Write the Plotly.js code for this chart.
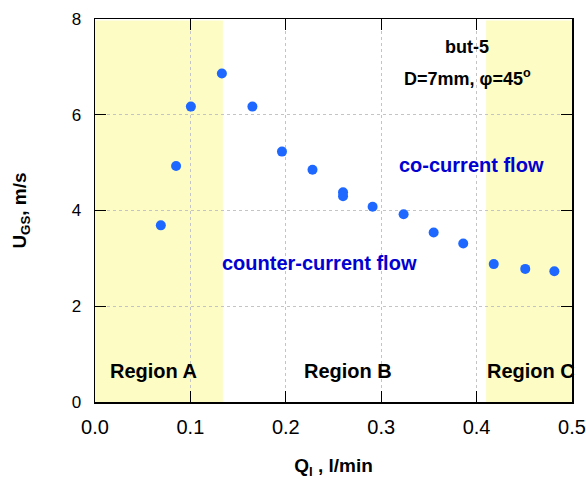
<!DOCTYPE html>
<html>
<head>
<meta charset="utf-8">
<script src="https://cdn.plot.ly/plotly-3.0.1.min.js"></script>
<style>html,body{margin:0;padding:0;background:#fff;}#chart{width:586px;height:482px;}</style>
</head>
<body>
<div id="chart"></div>
<script>
// Data
const qL = [0.069, 0.085, 0.1005, 0.133, 0.165, 0.196, 0.228, 0.260, 0.260, 0.291, 0.3235, 0.355, 0.386, 0.418, 0.451, 0.4815];
const uGS = [3.69, 4.93, 6.17, 6.86, 6.17, 5.23, 4.85, 4.38, 4.30, 4.08, 3.92, 3.54, 3.31, 2.88, 2.78, 2.73];
const regionStarts = [0.0, 0.41];
const regionEnds = [0.134, 0.5];
const xTickVals = [0.0, 0.1, 0.2, 0.3, 0.4, 0.5];
const xTickText = ['0.0', '0.1', '0.2', '0.3', '0.4', '0.5'];
const yTickVals = [0, 2, 4, 6, 8];
const yTickText = ['0', '2', '4', '6', '8'];

const FONT = 'Liberation Sans, Arial, sans-serif';
const trace = {
  x: qL, y: uGS, type: 'scatter', mode: 'markers',
  marker: {color: '#1e68ff', size: 10, line: {width: 0}},
  hoverinfo: 'skip', cliponaxis: false
};

const shapes = regionStarts.map((s, i) => ({
  type: 'rect', xref: 'x', yref: 'y', x0: s, x1: regionEnds[i], y0: 0, y1: 7.97,
  fillcolor: '#fcfcc4', line: {width: 0}, layer: 'below'
}));

function ann(text, x, y, size, color) {
  return {text: text, x: x, y: y, xref: 'x', yref: 'y', showarrow: false,
    xanchor: 'center', yanchor: 'middle',
    font: {family: FONT, size: size, color: color, weight: 'bold'}};
}

const annotations = [
  ann('<b>but-5</b>', 0.390, 7.41, 18, '#000'),
  ann('<b>D=7mm, φ=45<sup>o</sup></b>', 0.390, 6.77, 18, '#000'),
  ann('<b>co-current flow</b>', 0.3945, 4.95, 20, '#0000d0'),
  ann('<b>counter-current flow</b>', 0.2353, 2.91, 20, '#0000d0'),
  ann('<b>Region A</b>', 0.0608, 0.65, 20, '#000'),
  ann('<b>Region B</b>', 0.2647, 0.65, 20, '#000'),
  ann('<b>Region C</b>', 0.4565, 0.65, 20, '#000')
];

const layout = {
  width: 586, height: 482,
  margin: {l: 95, r: 14, t: 19, b: 80},
  paper_bgcolor: '#fff', plot_bgcolor: '#fff',
  showlegend: false,
  font: {family: FONT, color: '#000'},
  xaxis: {
    range: [0, 0.5], tickvals: xTickVals, ticktext: xTickText,
    ticks: 'inside', ticklen: 11, tickwidth: 1.2, tickcolor: '#000',
    showline: true, linecolor: '#000', linewidth: 1.5, mirror: 'ticks',
    showgrid: true, gridcolor: '#c4c4c4', gridwidth: 1, griddash: '3px,3px',
    zeroline: false, tickfont: {family: FONT, size: 20, color: '#000'},
    ticklabelstandoff: 6,
    title: {text: '<b>Q<sub>l</sub> , l/min</b>', font: {family: FONT, size: 19, color: '#000'}, standoff: 22}
  },
  yaxis: {
    range: [0, 8], tickvals: yTickVals, ticktext: yTickText,
    ticks: 'inside', ticklen: 11, tickwidth: 1.2, tickcolor: '#000',
    showline: true, linecolor: '#000', linewidth: 1.5, mirror: 'ticks',
    showgrid: true, gridcolor: '#c4c4c4', gridwidth: 1, griddash: '3px,3px',
    zeroline: false, tickfont: {family: FONT, size: 17, color: '#000'},
    ticklabelstandoff: 9,
    title: {text: '<b>U<sub>GS</sub>, m/s</b>', font: {family: FONT, size: 19, color: '#000'}, standoff: 40}
  },
  shapes: shapes,
  annotations: annotations
};

Plotly.newPlot('chart', [trace], layout, {displayModeBar: false, staticPlot: true});
</script>
</body>
</html>
